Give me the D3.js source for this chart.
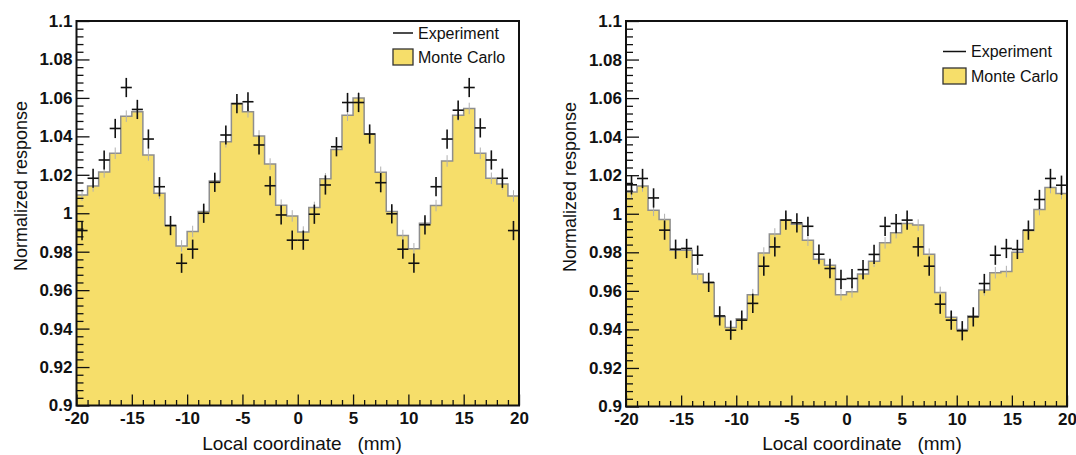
<!DOCTYPE html>
<html><head><meta charset="utf-8">
<script src="https://cdn.jsdelivr.net/npm/d3@7"></script>
<style>
html,body{margin:0;padding:0;background:#fff;}
svg{display:block;font-family:"Liberation Sans",Arial,Helvetica,sans-serif;}
</style></head><body>
<svg id="chart" width="1076" height="455"></svg>
<script>
// ---- data ----
const binCenters = [-19.5,-18.5,-17.5,-16.5,-15.5,-14.5,-13.5,-12.5,-11.5,-10.5,
  -9.5,-8.5,-7.5,-6.5,-5.5,-4.5,-3.5,-2.5,-1.5,-0.5,
  0.5,1.5,2.5,3.5,4.5,5.5,6.5,7.5,8.5,9.5,
  10.5,11.5,12.5,13.5,14.5,15.5,16.5,17.5,18.5,19.5];
const binWidth = 1;

const leftMC = [1.0095,1.0142,1.0215,1.0312,1.0505,1.0528,1.0303,1.0104,0.9936,0.9830,
  0.9905,1.0009,1.0168,1.0372,1.0571,1.0528,1.0402,1.0256,1.0042,0.9986,
  0.9902,1.0030,1.0179,1.0332,1.0510,1.0600,1.0412,1.0213,1.0009,0.9884,
  0.9815,0.9948,1.0040,1.0272,1.0510,1.0545,1.0312,1.0182,1.0152,1.0090];
const leftExp = [0.9910,1.0182,1.0277,1.0441,1.0654,1.0540,1.0386,1.0138,0.9936,0.9740,
  0.9813,1.0000,1.0161,1.0407,1.0570,1.0580,1.0355,1.0143,0.9991,0.9860,
  0.9860,0.9995,1.0147,1.0346,1.0576,1.0576,1.0412,1.0159,0.9997,0.9813,
  0.9740,0.9940,1.0138,1.0386,1.0536,1.0654,1.0444,1.0277,1.0182,0.9910];

const rightMC = [1.0113,1.0144,1.0018,0.9970,0.9810,0.9810,0.9687,0.9642,0.9465,0.9410,
  0.9455,0.9580,0.9796,0.9895,0.9967,0.9945,0.9863,0.9764,0.9733,0.9580,
  0.9595,0.9687,0.9754,0.9849,0.9902,0.9950,0.9941,0.9790,0.9592,0.9463,
  0.9400,0.9470,0.9605,0.9694,0.9700,0.9800,0.9913,1.0022,1.0136,1.0105];
const rightExp = [1.0150,1.0183,1.0082,0.9915,0.9816,0.9820,0.9785,0.9644,0.9470,0.9396,
  0.9448,0.9535,0.9728,0.9828,0.9967,0.9953,0.9935,0.9790,0.9716,0.9660,
  0.9664,0.9710,0.9789,0.9935,0.9949,0.9967,0.9828,0.9728,0.9531,0.9448,
  0.9393,0.9465,0.9638,0.9785,0.9820,0.9815,0.9915,1.0074,1.0183,1.0148];

const expErr = 0.005;
const mcErr = 0.003;

const xDomain = [-20, 20];
const yDomain = [0.9, 1.1];
const xTickValues = [-20,-15,-10,-5,0,5,10,15,20];
const xTickLabels = ["-20","-15","-10","-5","0","5","10","15","20"];
const xMinorTickValues = [-19,-18,-17,-16,-14,-13,-12,-11,-9,-8,-7,-6,-4,-3,-2,-1,
  1,2,3,4,6,7,8,9,11,12,13,14,16,17,18,19];
const yTickValues = [0.9,0.92,0.94,0.96,0.98,1.0,1.02,1.04,1.06,1.08,1.1];
const yTickLabels = ["0.9","0.92","0.94","0.96","0.98","1","1.02","1.04","1.06","1.08","1.1"];
const yMinorTickValues = [0.904,0.908,0.912,0.916,0.924,0.928,0.932,0.936,0.944,0.948,0.952,0.956,
  0.964,0.968,0.972,0.976,0.984,0.988,0.992,0.996,1.004,1.008,1.012,1.016,1.024,1.028,1.032,1.036,
  1.044,1.048,1.052,1.056,1.064,1.068,1.072,1.076,1.084,1.088,1.092,1.096];
const xTitle = "Local coordinate   (mm)";
const yTitle = "Normalized response";
const legendLabels = ["Experiment", "Monte Carlo"];

// ---- layout / style ----
const FILL = "#f6de6a", OUTLINE = "#8e8e8e", MCERR = "#b0b0b0", INK = "#111";
const panels = [
  {mc: leftMC, exp: leftExp, x0: 76.5, x1: 519, yTop: 21, yBot: 405.5,
   xTitleX: 302, xTitleY: 450, yTitleX: 27, yTitleY: 186,
   leg: {lineX0: 393, lineX1: 413, textX: 418, y1: 33, boxY0: 49, boxY1: 65}},
  {mc: rightMC, exp: rightExp, x0: 626, x1: 1067, yTop: 21, yBot: 406.5,
   xTitleX: 862, xTitleY: 450, yTitleX: 576, yTitleY: 187,
   leg: {lineX0: 943, lineX1: 966, textX: 971, y1: 51.5, boxY0: 68, boxY1: 84}}
];

const svg = d3.select("#chart");

panels.forEach(p => {
  const x = d3.scaleLinear().domain(xDomain).range([p.x0, p.x1]);
  const y = d3.scaleLinear().domain(yDomain).range([p.yBot, p.yTop]);
  const g = svg.append("g");

  // step points: left edge of each bin, then right edge of last bin
  const pts = binCenters.map((c, i) => [c - binWidth / 2, p.mc[i]]);
  pts.push([binCenters[binCenters.length - 1] + binWidth / 2, p.mc[p.mc.length - 1]]);

  const area = d3.area().curve(d3.curveStepAfter)
    .x(d => x(d[0])).y0(y(yDomain[0])).y1(d => y(d[1]));
  const line = d3.line().curve(d3.curveStepAfter)
    .x(d => x(d[0])).y(d => y(d[1]));

  g.append("path").attr("d", area(pts)).attr("fill", FILL);
  g.append("path").attr("d", line(pts)).attr("fill", "none")
    .attr("stroke", OUTLINE).attr("stroke-width", 1.5);

  // MC error bars
  g.append("g").selectAll("line").data(binCenters).join("line")
    .attr("x1", d => x(d)).attr("x2", d => x(d))
    .attr("y1", (d, i) => y(p.mc[i] - mcErr)).attr("y2", (d, i) => y(p.mc[i] + mcErr))
    .attr("stroke", MCERR).attr("stroke-width", 1);

  // Experiment crosses
  const ex = g.append("g").attr("stroke", INK).attr("stroke-width", 1.6);
  ex.selectAll("line.v").data(binCenters).join("line").attr("class", "v")
    .attr("x1", d => x(d)).attr("x2", d => x(d))
    .attr("y1", (d, i) => y(p.exp[i] - expErr)).attr("y2", (d, i) => y(p.exp[i] + expErr));
  ex.selectAll("line.h").data(binCenters).join("line").attr("class", "h")
    .attr("x1", d => x(d - binWidth / 2)).attr("x2", d => x(d + binWidth / 2))
    .attr("y1", (d, i) => y(p.exp[i])).attr("y2", (d, i) => y(p.exp[i]));

  // axes
  const gx = g.append("g").attr("transform", `translate(0,${p.yBot})`);
  gx.call(d3.axisBottom(x).tickValues(xTickValues).tickFormat((d, i) => xTickLabels[i])
    .tickSizeInner(-11).tickSizeOuter(0).tickPadding(6));
  const gxm = g.append("g").attr("transform", `translate(0,${p.yBot})`);
  gxm.call(d3.axisBottom(x).tickValues(xMinorTickValues).tickFormat("")
    .tickSizeInner(-5.5).tickSizeOuter(0));

  const gy = g.append("g").attr("transform", `translate(${p.x0},0)`);
  gy.call(d3.axisLeft(y).tickValues(yTickValues).tickFormat((d, i) => yTickLabels[i])
    .tickSizeInner(-13).tickSizeOuter(0).tickPadding(4));
  const gym = g.append("g").attr("transform", `translate(${p.x0},0)`);
  gym.call(d3.axisLeft(y).tickValues(yMinorTickValues).tickFormat("")
    .tickSizeInner(-7).tickSizeOuter(0));

  [gx, gxm, gy, gym].forEach(a => {
    a.select(".domain").remove();
    a.selectAll(".tick line").attr("stroke", INK).attr("stroke-width", 1.3);
    a.selectAll(".tick text").attr("fill", INK)
      .style("font-size", "17px").style("font-weight", "bold")
      .style("font-family", '"Liberation Sans",Arial,Helvetica,sans-serif');
  });

  // frame
  g.append("rect").attr("x", p.x0).attr("y", p.yTop)
    .attr("width", p.x1 - p.x0).attr("height", p.yBot - p.yTop)
    .attr("fill", "none").attr("stroke", INK).attr("stroke-width", 2);

  // titles
  g.append("text").attr("x", p.xTitleX).attr("y", p.xTitleY)
    .attr("text-anchor", "middle").style("font-size", "19px").style("white-space", "pre")
    .attr("fill", INK).text(xTitle);
  g.append("text").attr("transform", `translate(${p.yTitleX},${p.yTitleY}) rotate(-90)`)
    .attr("text-anchor", "middle").style("font-size", "18px").attr("fill", INK).text(yTitle);

  // legend
  const L = p.leg;
  const lg = g.append("g");
  lg.append("line").attr("x1", L.lineX0).attr("x2", L.lineX1).attr("y1", L.y1).attr("y2", L.y1)
    .attr("stroke", INK).attr("stroke-width", 1.5);
  lg.append("text").attr("x", L.textX).attr("y", L.y1).attr("dy", "0.35em")
    .style("font-size", "16px").attr("fill", INK).text(legendLabels[0]);
  lg.append("rect").attr("x", L.lineX0).attr("y", L.boxY0)
    .attr("width", L.lineX1 - L.lineX0).attr("height", L.boxY1 - L.boxY0)
    .attr("fill", FILL).attr("stroke", "#333").attr("stroke-width", 1.3);
  lg.append("text").attr("x", L.textX).attr("y", (L.boxY0 + L.boxY1) / 2).attr("dy", "0.35em")
    .style("font-size", "16px").attr("fill", INK).text(legendLabels[1]);
});
</script>
</body></html>
